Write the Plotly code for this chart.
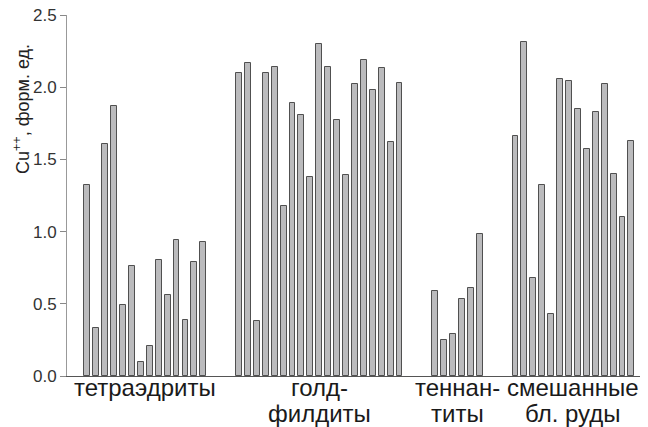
import plotly.graph_objects as go

# Data
category_line1 = ["тетраэдриты", "голд-", "теннан-", "смешанные"]
category_line2 = ["", "филдиты", "титы", "бл. руды"]
tetrahedrite = [1.32, 0.33, 1.61, 1.87, 0.49, 0.76, 0.10, 0.21, 0.80, 0.56, 0.94, 0.39, 0.79, 0.93]
goldfieldite = [2.10, 2.17, 0.38, 2.10, 2.14, 1.18, 1.89, 1.81, 1.38, 2.30, 2.14, 1.77, 1.39,
                2.02, 2.19, 1.98, 2.13, 1.62, 2.03]
tennantite = [0.59, 0.25, 0.29, 0.53, 0.61, 0.98]
mixed_ores = [1.66, 2.31, 0.68, 1.32, 0.43, 2.06, 2.04, 1.85, 1.57, 1.83, 2.02, 1.40, 1.10, 1.63]
y_ticks = [0.0, 0.5, 1.0, 1.5, 2.0, 2.5]

groups = [tetrahedrite, goldfieldite, tennantite, mixed_ores]
gap = 4

xs, ys, centers = [], [], []
pos = 0
for g in groups:
    start = pos
    for v in g:
        xs.append(pos)
        ys.append(v)
        pos += 1
    centers.append((start + pos - 1) / 2)
    pos += gap - 1

font_family = "Liberation Sans, Arial, sans-serif"

# page body has an 8px margin, so the figure is drawn 8px in from the corner
OFF = 8
W, H = 648 - OFF, 427 - OFF
L, R, T, B = 67 - OFF, 8, 15 - OFF, 51
plot_h = H - T - B
plot_w = W - L - R


def py(page_y):
    return (H - B - (page_y - OFF)) / plot_h


fig = go.Figure()
fig.add_trace(go.Bar(
    x=xs, y=ys, width=0.66,
    marker=dict(color="#bbbbbd", line=dict(color="#505050", width=1)),
    showlegend=False,
))

annotations = []
for c, t1, t2 in zip(centers, category_line1, category_line2):
    annotations.append(dict(
        text=t1, xref="x", yref="paper", x=c, y=py(388),
        xanchor="center", yanchor="middle", showarrow=False,
        font=dict(size=24, color="#1a1a1a", family=font_family)))
    if t2:
        annotations.append(dict(
            text=t2, xref="x", yref="paper", x=c, y=py(414),
            xanchor="center", yanchor="middle", showarrow=False,
            font=dict(size=24, color="#1a1a1a", family=font_family)))

annotations.append(dict(
    text="Cu<sup>++</sup>, форм. ед.",
    textangle=-90,
    xref="paper", yref="paper",
    x=(22 - 67) / plot_w, y=py(109),
    xanchor="center", yanchor="middle",
    showarrow=False,
    font=dict(size=18, color="#222222", family=font_family),
))

fig.update_layout(
    width=W, height=H,
    margin=dict(l=L, r=R, t=T, b=B, autoexpand=False),
    paper_bgcolor="white", plot_bgcolor="white",
    font=dict(family=font_family, color="#222222"),
    bargap=0,
    xaxis=dict(
        range=[-2.28, 61.96], automargin=False,
        showticklabels=False, ticks="", showgrid=False, zeroline=False,
        showline=True, linecolor="#555555", linewidth=1.2,
    ),
    yaxis=dict(
        range=[0, 2.5], automargin=False,
        tickmode="array", tickvals=y_ticks,
        ticktext=[f"{v:.1f}" for v in y_ticks],
        ticks="outside", ticklen=6, tickcolor="#888888", tickwidth=1,
        ticklabeloverflow="allow",
        showgrid=False, zeroline=False,
        showline=True, linecolor="#999999", linewidth=1,
        tickfont=dict(size=17, color="#333333", family=font_family),
    ),
    annotations=annotations,
)

fig.write_html("out.html")
